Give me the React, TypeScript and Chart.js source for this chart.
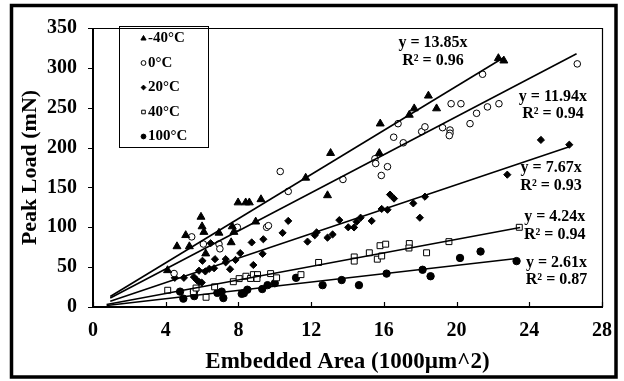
import React, { useEffect, useRef } from 'react';
import { Chart, registerables } from 'chart.js';

Chart.register(...registerables);

const FONT = '"Liberation Serif", "Times New Roman", serif';

// ---- data ----
const seriesLabels = ['-40°C', '0°C', '20°C', '40°C', '100°C'];

const m40X = [4.1, 4.62, 5.1, 5.3, 5.94, 6.0, 6.1, 6.2, 6.93, 7.6, 7.66, 7.75, 7.98, 8.4, 8.6, 8.95, 9.24, 11.7, 12.9, 13.07, 15.75, 15.8, 17.4, 17.67, 18.45, 18.9, 22.3, 22.6];
const m40Y = [46, 76, 90, 76, 113, 101, 94, 67, 93, 81, 101, 94, 131, 131, 131, 107, 135, 162, 140, 193, 193, 230, 241, 249, 265, 249, 312, 309];

const c0X = [4.46, 5.43, 6.07, 6.93, 6.98, 7.94, 9.55, 9.65, 10.3, 10.74, 13.75, 15.51, 15.55, 15.86, 16.2, 16.54, 16.78, 17.07, 18.08, 18.26, 19.23, 19.64, 19.64, 19.6, 19.7, 20.24, 20.74, 21.1, 21.43, 21.7, 22.33, 26.64];
const c0Y = [42, 88, 79, 79, 73, 100, 100, 102, 170, 145, 160, 186, 180, 165, 176, 213, 230, 206, 220, 226, 225, 222, 218, 215, 255, 255, 230, 243, 292, 251, 255, 305];

const c20X = [4.5, 5.0, 5.55, 5.7, 5.83, 5.98, 5.83, 6.02, 6.18, 6.4, 6.66, 6.71, 6.47, 7.3, 7.3, 7.54, 7.84, 8.1, 8.73, 8.82, 9.33, 9.37, 10.43, 10.74, 11.8, 12.2, 12.3, 12.9, 13.18, 13.55, 14.04, 14.36, 14.5, 14.72, 15.33, 15.88, 16.2, 16.34, 16.56, 17.62, 17.98, 18.26, 22.79, 24.64, 26.2];
const c20Y = [36.6, 36.6, 37.6, 34, 31.4, 30.6, 45.5, 58, 44.6, 48, 48.6, 60, 80, 60, 56, 47.4, 59, 67.6, 81, 52.7, 66.7, 85, 93, 108, 82, 90, 93.6, 87, 91, 109, 100, 99.8, 107, 112, 108, 123, 122, 141, 136, 130, 112, 138.4, 166, 209.6, 203.6];

const c40X = [4.11, 5.52, 5.67, 6.22, 6.69, 7.72, 8.04, 8.41, 8.67, 8.82, 9.05, 9.02, 9.77, 10.1, 11.44, 12.41, 14.37, 14.37, 15.2, 15.64, 15.88, 15.79, 16.1, 17.4, 17.38, 18.35, 19.58, 23.45];
const c40Y = [21, 19.3, 23.8, 12.2, 25.3, 31.7, 35.6, 38.6, 35.8, 40.6, 40.6, 35.8, 41.9, 36.6, 40.6, 55.9, 62.8, 57.6, 68, 60, 64, 76.9, 78.8, 79.6, 74, 68, 82, 100];

const c100X = [4.79, 4.97, 5.56, 5.57, 6.84, 7.08, 7.17, 8.18, 8.3, 8.49, 9.31, 9.6, 10.0, 11.17, 12.63, 13.68, 14.63, 16.15, 18.13, 18.57, 20.19, 21.32, 23.3];
const c100Y = [19.3, 10.5, 19.3, 13.6, 17.7, 19.3, 11.2, 16.5, 17.3, 21.7, 22.5, 27.4, 29.8, 36.6, 27.4, 33.8, 27.4, 41.9, 46.7, 38.6, 61.5, 69.6, 57.6];

const slopes = [13.85, 11.94, 7.67, 4.24, 2.61];
const rSquared = ['0.96', '0.94', '0.93', '0.94', '0.87'];
const trendStartX = [0.95, 0.95, 0.95, 0.75, 0.75];
const trendEndX = [22.6, 26.6, 26.2, 23.5, 23.3];

const xTickValues = [0, 4, 8, 12, 16, 20, 24, 28];
const yTickValues = [0, 50, 100, 150, 200, 250, 300, 350];

const xTitle = 'Embedded Area (1000µm^2)';
const yTitle = 'Peak Load (mN)';

// equation label anchors (data coordinates of the first line's centre)
const eqAnchorX = [18.7, 25.3, 25.2, 25.4, 25.5];
const eqAnchorY = [331, 264, 174, 113, 55.5];

// ---- styles ----
const markerStyles = [
  { pointStyle: 'triangle', radius: 4.6, fill: '#000', border: '#000', bw: 1 },
  { pointStyle: 'circle', radius: 3.3, fill: '#fff', border: '#000', bw: 1 },
  { pointStyle: 'rectRot', radius: 3.6, fill: '#000', border: '#000', bw: 1 },
  { pointStyle: 'rect', radius: 4.2, fill: '#fff', border: '#000', bw: 1 },
  { pointStyle: 'circle', radius: 3.7, fill: '#000', border: '#000', bw: 1 },
];

const toPts = (xs: number[], ys: number[]) => xs.map((x, i) => ({ x, y: ys[i] }));

function drawMarker(ctx: CanvasRenderingContext2D, style: string, cx: number, cy: number, r: number, filled: boolean) {
  ctx.save();
  ctx.beginPath();
  if (style === 'triangle') {
    ctx.moveTo(cx, cy - r);
    ctx.lineTo(cx + r * 0.866, cy + r * 0.5);
    ctx.lineTo(cx - r * 0.866, cy + r * 0.5);
    ctx.closePath();
  } else if (style === 'rectRot') {
    ctx.moveTo(cx, cy - r);
    ctx.lineTo(cx + r, cy);
    ctx.lineTo(cx, cy + r);
    ctx.lineTo(cx - r, cy);
    ctx.closePath();
  } else if (style === 'rect') {
    ctx.rect(cx - r * 0.75, cy - r * 0.75, r * 1.5, r * 1.5);
  } else {
    ctx.arc(cx, cy, r, 0, Math.PI * 2);
  }
  ctx.fillStyle = filled ? '#000' : '#fff';
  ctx.fill();
  ctx.strokeStyle = '#000';
  ctx.lineWidth = 1;
  ctx.stroke();
  ctx.restore();
}

const decorPlugin = {
  id: 'decor',
  afterDraw(chart: any) {
    const { ctx, chartArea: a, scales } = chart;
    const xs = scales.x;
    const ys = scales.y;
    ctx.save();
    // outer figure frame
    ctx.strokeStyle = '#000';
    ctx.lineWidth = 3.5;
    ctx.strokeRect(11.5, 5.5, 604.5, 371.5);

    // plot frame
    ctx.lineWidth = 1.2;
    ctx.beginPath();
    ctx.moveTo(a.left, a.top + 0.5);
    ctx.lineTo(a.right + 0.5, a.top + 0.5);
    ctx.lineTo(a.right + 0.5, a.bottom);
    ctx.stroke();
    ctx.lineWidth = 2;
    ctx.beginPath();
    ctx.moveTo(a.left, a.top);
    ctx.lineTo(a.left, a.bottom);
    ctx.lineTo(a.right + 1, a.bottom);
    ctx.stroke();

    // tick marks
    ctx.lineWidth = 1.2;
    ctx.beginPath();
    yTickValues.forEach((v) => {
      const py = Math.round(ys.getPixelForValue(v)) + 0.5;
      ctx.moveTo(a.left - 5, py);
      ctx.lineTo(a.left, py);
    });
    xTickValues.forEach((v) => {
      const px = Math.round(xs.getPixelForValue(v)) + 0.5;
      ctx.moveTo(px, a.bottom);
      ctx.lineTo(px, a.bottom - 5);
    });
    ctx.stroke();

    // equation labels
    ctx.fillStyle = '#000';
    ctx.font = `bold 16px ${FONT}`;
    ctx.textAlign = 'center';
    ctx.textBaseline = 'middle';
    slopes.forEach((s, i) => {
      const px = xs.getPixelForValue(eqAnchorX[i]);
      const py = ys.getPixelForValue(eqAnchorY[i]);
      ctx.fillText(`y = ${s.toFixed(2)}x`, px, py);
      ctx.fillText(`R² = ${rSquared[i]}`, px, py + 17.5);
    });

    // legend
    ctx.lineWidth = 1;
    ctx.strokeRect(119.5, 26.5, 89, 121);
    ctx.font = `bold 15px ${FONT}`;
    ctx.textAlign = 'left';
    seriesLabels.forEach((lab, i) => {
      const cy = 38.5 + i * 24.5;
      const st = markerStyles[i];
      const filled = st.fill === '#000';
      drawMarker(ctx, st.pointStyle, 143.5, cy, i === 0 ? 3 : 2.4, filled);
      ctx.fillStyle = '#000';
      ctx.fillText(lab, 148, cy);
    });
    ctx.restore();
  },
};

export default function App() {
  const ref = useRef<HTMLCanvasElement>(null);

  useEffect(() => {
    if (!ref.current) return;
    const seriesX = [m40X, c0X, c20X, c40X, c100X];
    const seriesY = [m40Y, c0Y, c20Y, c40Y, c100Y];

    const pointSets = seriesLabels.map((lab, i) => {
      const st = markerStyles[i];
      return {
        type: 'scatter' as const,
        label: lab,
        data: toPts(seriesX[i], seriesY[i]),
        pointStyle: st.pointStyle as any,
        pointRadius: st.radius,
        pointBackgroundColor: st.fill,
        pointBorderColor: st.border,
        pointBorderWidth: st.bw,
        showLine: false,
      };
    });

    const trendSets = slopes.map((s, i) => ({
      type: 'scatter' as const,
      label: 'trend ' + seriesLabels[i],
      data: [
        { x: trendStartX[i], y: s * trendStartX[i] },
        { x: trendEndX[i], y: s * trendEndX[i] },
      ],
      showLine: true,
      borderColor: '#000',
      borderWidth: 1.6,
      pointRadius: 0,
      fill: false,
    }));

    const chart = new Chart(ref.current, {
      type: 'scatter',
      data: { datasets: [...trendSets, ...pointSets] as any },
      options: {
        responsive: false,
        animation: false,
        events: [],
        layout: { padding: { left: 14, right: 22, top: 17, bottom: 4 } },
        plugins: { legend: { display: false }, tooltip: { enabled: false } },
        scales: {
          x: {
            type: 'linear',
            min: 0,
            max: 28,
            afterBuildTicks: (scale: any) => {
              scale.ticks = xTickValues.map((v) => ({ value: v }));
            },
            afterFit: (scale: any) => {
              scale.height = 70;
            },
            grid: { display: false, drawTicks: false },
            border: { display: false },
            ticks: {
              color: '#000',
              padding: 12,
              maxRotation: 0,
              font: { family: FONT, size: 20, weight: 'bold' },
            },
            title: {
              display: true,
              text: xTitle,
              color: '#000',
              padding: { top: 0, bottom: 1 },
              font: { family: FONT, size: 23, weight: 'bold' },
            },
          },
          y: {
            type: 'linear',
            min: 0,
            max: 350,
            afterBuildTicks: (scale: any) => {
              scale.ticks = yTickValues.map((v) => ({ value: v }));
            },
            afterFit: (scale: any) => {
              scale.width = 79;
            },
            grid: { display: false, drawTicks: false },
            border: { display: false },
            ticks: {
              color: '#000',
              padding: 16,
              font: { family: FONT, size: 20, weight: 'bold' },
            },
            title: {
              display: true,
              text: yTitle,
              color: '#000',
              padding: { top: 3, bottom: 0 },
              font: { family: FONT, size: 22, weight: 'bold' },
            },
          },
        },
      },
      plugins: [decorPlugin],
    });
    return () => chart.destroy();
  }, []);

  return (
    <div style={{ position: 'fixed', left: 0, top: 0, width: 624, height: 381, background: '#fff' }}>
      <canvas ref={ref} width={624} height={381} style={{ display: 'block' }} />
    </div>
  );
}
